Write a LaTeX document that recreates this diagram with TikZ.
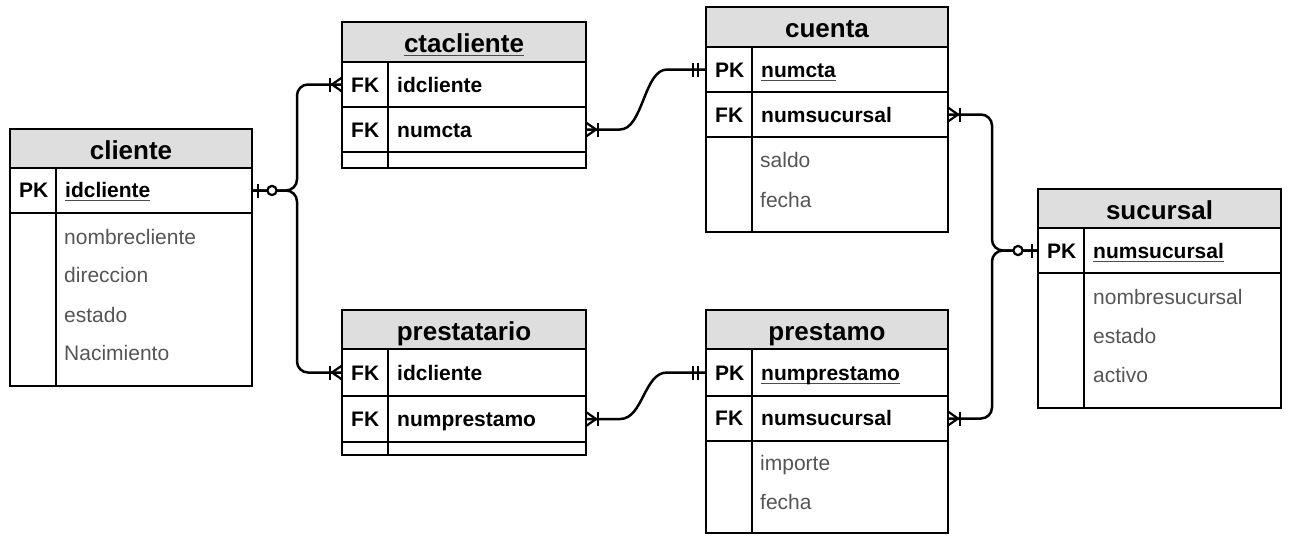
\documentclass[tikz,border=0pt]{standalone}
\usepackage{fontspec}
\setmainfont{Liberation Sans}
\definecolor{titlegray}{HTML}{DEDEDE}
\definecolor{attrgray}{HTML}{555555}
\newcommand\ulx[1]{\setbox0\hbox{#1}\rlap{\color{black!70}\rule[-4.4pt]{\wd0}{1.8pt}}\box0}
\tikzset{
  tbox/.style={draw, line width=2.5pt, outer sep=0pt, inner sep=0pt, anchor=north west},
  titlebox/.style={tbox, fill=titlegray},
  divider/.style={line width=1.5pt},
  keytxt/.style={anchor=base west, inner sep=0pt, font=\fontsize{21}{25}\selectfont\bfseries},
  attrtxt/.style={anchor=base west, inner sep=0pt, text=attrgray, font=\fontsize{21}{25}\selectfont},
  titletxt/.style={anchor=base, inner sep=0pt, font=\fontsize{26}{31}\selectfont\bfseries},
  conn/.style={line width=2.5pt, rounded corners=11},
  mk/.style={line width=2.2pt},
  onemany/.pic={\draw[mk] (0,-7) -- (10,0) -- (0,7); \draw[mk] (12,-7) -- (12,7);},
  zeroone/.pic={\draw[mk] (6,-7) -- (6,7); \draw[mk, fill=white] (20,0) circle (4.6pt);},
  mandone/.pic={\draw[mk] (8,-7) -- (8,7); \draw[mk] (13,-7) -- (13,7);}
}
\begin{document}
\begin{tikzpicture}[x=1pt, y=-1pt]
\useasboundingbox (0,0) rectangle (1298,554);

% ---------------- cliente
\node[titlebox, minimum width=242, minimum height=39] (cliente) at (10,129) {};
\node[titletxt] (cliente-t) at (131,159) {cliente};
\node[tbox, minimum width=242, minimum height=45] (cliente-pk) at (10,168) {};
\node[tbox, minimum width=242, minimum height=173] (cliente-at) at (10,213) {};
\draw[divider] (56,168) -- (56,386);
\node[keytxt] (cliente-pkl) at (19,197) {PK};
\node[keytxt] (cliente-pkn) at (65,197) {\ulx{idcliente}};
\node[attrtxt] (cliente-a1) at (64,244) {nombrecliente};
\node[attrtxt] (cliente-a2) at (64,282) {direccion};
\node[attrtxt] (cliente-a3) at (64,322) {estado};
\node[attrtxt] (cliente-a4) at (64,360) {Nacimiento};

% ---------------- ctacliente
\node[titlebox, minimum width=244, minimum height=40] (ctacliente) at (342,22) {};
\node[titletxt] (ctacliente-t) at (464,52) {\ulx{ctacliente}};
\node[tbox, minimum width=244, minimum height=45] (ctacliente-fk1) at (342,62) {};
\node[tbox, minimum width=244, minimum height=45] (ctacliente-fk2) at (342,107) {};
\node[tbox, minimum width=244, minimum height=16] (ctacliente-e) at (342,152) {};
\draw[divider] (388,62) -- (388,168);
\node[keytxt] (ctacliente-l1) at (351,92) {FK};
\node[keytxt] (ctacliente-n1) at (397,92) {idcliente};
\node[keytxt] (ctacliente-l2) at (351,137) {FK};
\node[keytxt] (ctacliente-n2) at (397,137) {numcta};

% ---------------- cuenta
\node[titlebox, minimum width=242, minimum height=40] (cuenta) at (706,7) {};
\node[titletxt] (cuenta-t) at (827,37) {cuenta};
\node[tbox, minimum width=242, minimum height=45] (cuenta-pk) at (706,47) {};
\node[tbox, minimum width=242, minimum height=45] (cuenta-fk) at (706,92) {};
\node[tbox, minimum width=242, minimum height=95] (cuenta-at) at (706,137) {};
\draw[divider] (752,47) -- (752,232);
\node[keytxt] (cuenta-l1) at (715,77) {PK};
\node[keytxt] (cuenta-n1) at (761,77) {\ulx{numcta}};
\node[keytxt] (cuenta-l2) at (715,122) {FK};
\node[keytxt] (cuenta-n2) at (761,122) {numsucursal};
\node[attrtxt] (cuenta-a1) at (760,167) {saldo};
\node[attrtxt] (cuenta-a2) at (760,207) {fecha};

% ---------------- sucursal
\node[titlebox, minimum width=243, minimum height=39] (sucursal) at (1038,189) {};
\node[titletxt] (sucursal-t) at (1159.5,219) {sucursal};
\node[tbox, minimum width=243, minimum height=45] (sucursal-pk) at (1038,228) {};
\node[tbox, minimum width=243, minimum height=135] (sucursal-at) at (1038,273) {};
\draw[divider] (1084,228) -- (1084,408);
\node[keytxt] (sucursal-l1) at (1047,258) {PK};
\node[keytxt] (sucursal-n1) at (1093,258) {\ulx{numsucursal}};
\node[attrtxt] (sucursal-a1) at (1093,304) {nombresucursal};
\node[attrtxt] (sucursal-a2) at (1093,343) {estado};
\node[attrtxt] (sucursal-a3) at (1093,382) {activo};

% ---------------- prestatario
\node[titlebox, minimum width=244, minimum height=39] (prestatario) at (342,310) {};
\node[titletxt] (prestatario-t) at (464,340) {prestatario};
\node[tbox, minimum width=244, minimum height=47] (prestatario-fk1) at (342,349) {};
\node[tbox, minimum width=244, minimum height=46] (prestatario-fk2) at (342,396) {};
\node[tbox, minimum width=244, minimum height=13] (prestatario-e) at (342,442) {};
\draw[divider] (388,349) -- (388,455);
\node[keytxt] (prestatario-l1) at (351,380) {FK};
\node[keytxt] (prestatario-n1) at (397,380) {idcliente};
\node[keytxt] (prestatario-l2) at (351,426) {FK};
\node[keytxt] (prestatario-n2) at (397,426) {numprestamo};

% ---------------- prestamo
\node[titlebox, minimum width=242, minimum height=39] (prestamo) at (706,310) {};
\node[titletxt] (prestamo-t) at (827,340) {prestamo};
\node[tbox, minimum width=242, minimum height=47] (prestamo-pk) at (706,349) {};
\node[tbox, minimum width=242, minimum height=45] (prestamo-fk) at (706,396) {};
\node[tbox, minimum width=242, minimum height=92] (prestamo-at) at (706,441) {};
\draw[divider] (752,349) -- (752,533);
\node[keytxt] (prestamo-l1) at (715,380) {PK};
\node[keytxt] (prestamo-n1) at (761,380) {\ulx{numprestamo}};
\node[keytxt] (prestamo-l2) at (715,425) {FK};
\node[keytxt] (prestamo-n2) at (761,425) {numsucursal};
\node[attrtxt] (prestamo-a1) at (760,470) {importe};
\node[attrtxt] (prestamo-a2) at (760,509) {fecha};

% ---------------- connectors
\draw[conn] (cliente-pk.east) -- (297,190.5) -- (297,84.5) -- (ctacliente-fk1.west);
\draw[conn] (cliente-pk.east) -- (297,190.5) -- (297,372.5) -- (prestatario-fk1.west);
\draw[conn, rounded corners=0] (ctacliente-fk2.east) -- (620,129.5) .. controls (643,129.5) and (644,69.5) .. (667,69.5) -- (cuenta-pk.west);
\draw[conn, rounded corners=0] (prestatario-fk2.east) -- (620,419) .. controls (643,419) and (644,372.5) .. (667,372.5) -- (prestamo-pk.west);
\draw[conn] (cuenta-fk.east) -- (992,114.5) -- (992,250.5) -- (sucursal-pk.west);
\draw[conn] (prestamo-fk.east) -- (992,418.5) -- (992,250.5) -- (sucursal-pk.west);

% ---------------- markers
\pic at (cliente-pk.east) {zeroone};
\pic[rotate=180] at (ctacliente-fk1.west) {onemany};
\pic[rotate=180] at (prestatario-fk1.west) {onemany};
\pic at (ctacliente-fk2.east) {onemany};
\pic[rotate=180] at (cuenta-pk.west) {mandone};
\pic at (prestatario-fk2.east) {onemany};
\pic[rotate=180] at (prestamo-pk.west) {mandone};
\pic at (cuenta-fk.east) {onemany};
\pic at (prestamo-fk.east) {onemany};
\pic[rotate=180] at (sucursal-pk.west) {zeroone};
\end{tikzpicture}
\end{document}
